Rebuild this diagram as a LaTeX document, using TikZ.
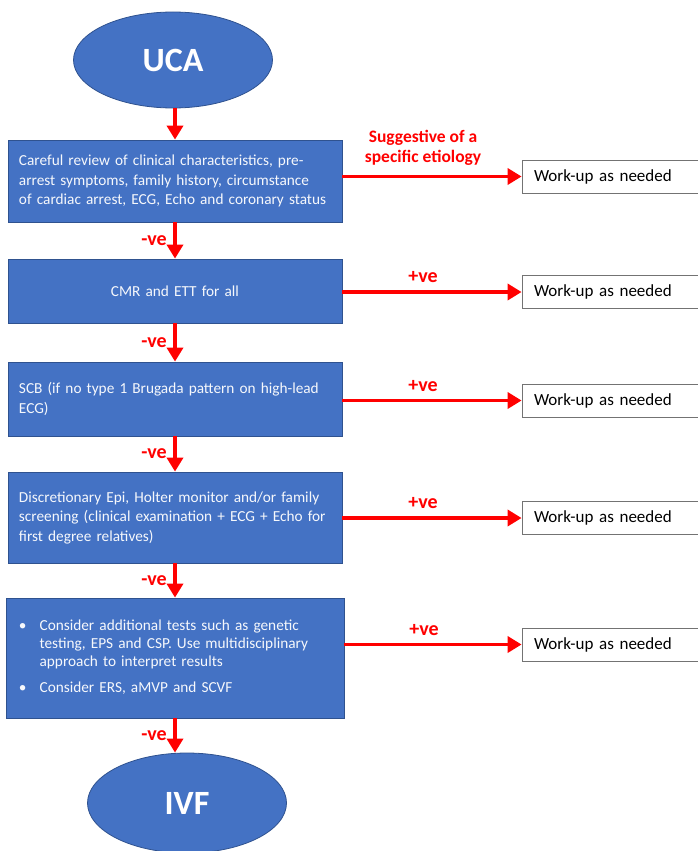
\documentclass[tikz,border=0pt]{standalone}
\usepackage{fontspec}
\setmainfont{Carlito}
\usetikzlibrary{shapes.geometric,arrows.meta}
\definecolor{boxblue}{HTML}{4472C4}
\definecolor{boxedge}{HTML}{2F528F}
\tikzset{
  ovalnode/.style={ellipse, fill=boxblue, draw=boxedge, line width=0.8pt, inner sep=0pt,
    minimum width=199pt, minimum height=96pt, text=white, font=\fontsize{34}{40}\selectfont\bfseries},
  bluebox/.style={rectangle, fill=boxblue, draw=boxedge, line width=0.8pt, minimum width=334pt,
    text width=312pt, inner xsep=11pt, text=white!95!boxblue, font=\fontsize{15.3}{19.5}\selectfont},
  workbox/.style={rectangle, fill=white, draw=black!55, line width=0.8pt, minimum height=33pt,
    text width=159pt, inner xsep=12pt, align=left, font=\fontsize{17}{19}\selectfont},
  redarrow/.style={draw=red, line width=3.8pt, -{Triangle[length=14pt,width=16pt]}},
  lbl/.style={text=red, font=\fontsize{20}{22}\selectfont\bfseries},
}
\begin{document}
\begin{tikzpicture}[x=1pt,y=-1pt]
			%%%%% START %%%%%
			\useasboundingbox (0,0) rectangle (698,851);
			
			\node[ovalnode] (uca) at (173, 60) {UCA};
			
			\node[bluebox, minimum height=82pt, align=left] (b1) at (175, 181)
			  {Careful review of clinical characteristics, pre-\\arrest symptoms, family history, circumstance\\of cardiac arrest, ECG, Echo and coronary status};
			\node[bluebox, minimum height=64pt, align=center] (b2) at (175, 291) {CMR and ETT for all};
			\node[bluebox, minimum height=74pt, align=left] (b3) at (175, 399)
			  {SCB (if no type 1 Brugada pattern on high-lead\\ECG)};
			\node[bluebox, minimum height=91pt, align=left] (b4) at (175, 517.5)
			  {Discretionary Epi, Holter monitor and/or family\\screening (clinical examination + ECG + Echo for\\first degree relatives)};
			\node[bluebox, minimum height=120pt, align=left, inner xsep=13pt] (b5) at (175, 658)
			  {\fontsize{15.3}{18}\selectfont\begin{tabular}{@{}l@{\hspace{13pt}}l@{}}
			    \textbullet & Consider additional tests such as genetic\\
			    & testing, EPS and CSP. Use multidisciplinary\\
			    & approach to interpret results\\[8pt]
			    \textbullet & Consider ERS, aMVP and SCVF
			  \end{tabular}};
			
			\node[ovalnode, minimum height=100pt] (ivf) at (187, 803) {IVF};
			
			\node[workbox] (w1) at (613.5, 176.5) {Work-up as needed};
			\node[workbox] (w2) at (613.5, 292) {Work-up as needed};
			\node[workbox] (w3) at (613.5, 400.5) {Work-up as needed};
			\node[workbox] (w4) at (613.5, 518) {Work-up as needed};
			\node[workbox] (w5) at (613.5, 644.5) {Work-up as needed};
			
			% down the middle
			\draw[redarrow] (b1.north |- uca.south) -- (b1.north);
			\draw[redarrow] (b1.south) -- node[lbl, left=3pt] {-ve} (b2.north);
			\draw[redarrow] (b2.south) -- node[lbl, left=3pt] {-ve} (b3.north);
			\draw[redarrow] (b3.south) -- node[lbl, left=3pt] {-ve} (b4.north);
			\draw[redarrow] (b4.south) -- node[lbl, left=3pt] {-ve} (b5.north);
			\draw[redarrow] (b5.south) -- node[lbl, left=3pt] {-ve} (b5.south |- ivf.north);
			
			% out to the right
			\draw[redarrow] (b1.east |- w1) -- node[lbl, pos=0.45, above=6pt, align=center,
			  font=\fontsize{17.5}{20}\selectfont\bfseries] {Suggestive of a\\specific etiology} (w1.west);
			\draw[redarrow] (b2.east |- w2) -- node[lbl, pos=0.45, above=4pt] {+ve} (w2.west);
			\draw[redarrow] (b3.east |- w3) -- node[lbl, pos=0.45, above=4pt] {+ve} (w3.west);
			\draw[redarrow] (b4.east |- w4) -- node[lbl, pos=0.45, above=4pt] {+ve} (w4.west);
			\draw[redarrow] (b5.east |- w5) -- node[lbl, pos=0.45, above=4pt] {+ve} (w5.west);
			%%%%% END %%%%%
\end{tikzpicture}
\end{document}
